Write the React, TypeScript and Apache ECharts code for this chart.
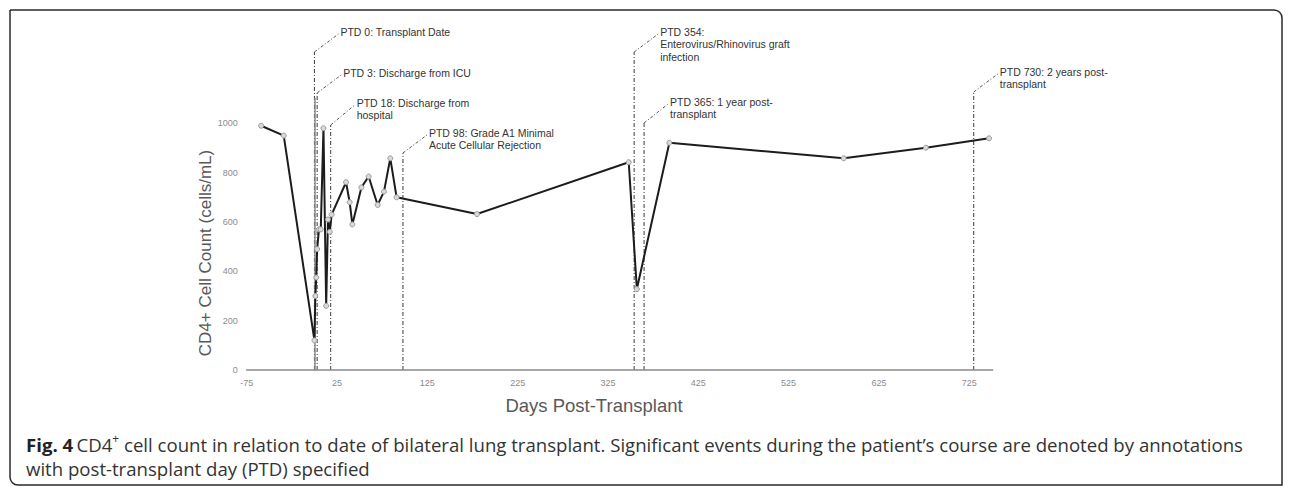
import React, { useEffect, useRef } from "react";
import * as echarts from "echarts";

// Data: CD4+ cell count vs. days post-transplant
const days = [-59, -34, 0, 1, 2, 3, 5, 7, 10, 13, 15, 17, 19, 35, 39, 42, 52, 60, 70, 77, 84, 91, 180, 348, 357, 393, 586, 677, 747];
const cd4 = [990, 950, 120, 300, 375, 490, 570, 570, 980, 260, 610, 560, 630, 761, 680, 590, 740, 784, 669, 723, 858, 700, 632, 842, 328, 921, 858, 901, 939];

const xTicks = [-75, 25, 125, 225, 325, 425, 525, 625, 725];
const yTicks = [0, 200, 400, 600, 800, 1000];

const eventDays = [0, 3, 18, 98, 354, 365, 730];
const eventLabels = [
  ["PTD 0: Transplant Date"],
  ["PTD 3: Discharge from ICU"],
  ["PTD 18: Discharge from", "hospital"],
  ["PTD 98: Grade A1 Minimal", "Acute Cellular Rejection"],
  ["PTD 354:", "Enterovirus/Rhinovirus graft", "infection"],
  ["PTD 365: 1 year post-", "transplant"],
  ["PTD 730: 2 years post-", "transplant"],
];

// Layout of annotation leaders (pixel positions)
const eventTopY = [52, 93, 125, 153, 52, 123, 92];
const eventTextY = [32, 73, 103, 133, 32, 102, 72];

const caption1 = "CD4";
const caption2 = " cell count in relation to date of bilateral lung transplant. Significant events during the patient\u2019s course are denoted by annotations";
const caption3 = "with post-transplant day (PTD) specified";

export default function App() {
  const ref = useRef<HTMLDivElement>(null);

  useEffect(() => {
    document.body.style.margin = "0";
    const chart = echarts.init(ref.current!, null, { renderer: "svg" });
    const axisFont = "Liberation Sans";
    chart.setOption({
      animation: false,
      backgroundColor: "#ffffff",
      grid: { left: 246.7, right: 297.3, top: 98.6, bottom: 117 },
      xAxis: {
        type: "value",
        min: -75,
        max: 751,
        axisLine: { show: true, onZero: false, lineStyle: { color: "#8a8a8a", width: 1.5 } },
        axisTick: { show: false },
        splitLine: { show: false },
        axisLabel: { customValues: xTicks, color: "#8c8c8c", fontSize: 9, margin: 8, fontFamily: axisFont, formatter: (v: number) => String(v) },
      },
      yAxis: {
        type: "value",
        min: 0,
        max: 1100,
        axisLine: { show: true, lineStyle: { color: "#8a8a8a", width: 1.5 } },
        axisTick: { show: false },
        splitLine: { show: false },
        axisLabel: { customValues: yTicks, color: "#8c8c8c", fontSize: 9, margin: 9, fontFamily: axisFont, formatter: (v: number) => String(v) },
      },
      series: [
        {
          type: "line",
          data: days.map((d, i) => [d, cd4[i]]),
          lineStyle: { color: "#1c1c1c", width: 2 },
          symbol: "circle",
          symbolSize: 5,
          itemStyle: { color: "#d9d9d9", borderColor: "#9a9a9a", borderWidth: 1 },
          clip: false,
        },
      ],
    });

    const y0 = chart.convertToPixel({ yAxisIndex: 0 }, 0) as number;
    const graphics: any[] = [
      {
        type: "rect",
        shape: { x: 10, y: 10, width: 1272, height: 475, r: [0, 8, 0, 8] },
        style: { fill: "none", stroke: "#2a2a2a", lineWidth: 1.5 },
      },
      {
        type: "text",
        x: 205,
        y: 253,
        rotation: Math.PI / 2,
        style: {
          text: "CD4+ Cell Count (cells/mL)",
          font: '17px "Liberation Sans"',
          fill: "#595959",
          align: "center",
          verticalAlign: "middle",
        },
      },
      {
        type: "text",
        x: 594,
        y: 405,
        style: {
          text: "Days Post-Transplant",
          font: '18.5px "Liberation Sans"',
          fill: "#595959",
          align: "center",
          verticalAlign: "middle",
        },
      },
      {
        type: "text",
        x: 26,
        y: 444,
        style: {
          text: "{b|Fig. 4} {n|" + caption1 + "}{s|+}{n|" + caption2 + "}",
          verticalAlign: "middle",
          rich: {
            b: { fontFamily: "Open Sans", fontSize: 18.6, fontWeight: "bold", fill: "#222", lineHeight: 24 },
            n: { fontFamily: "Open Sans", fontSize: 18.6, fill: "#333", lineHeight: 24 },
            s: { fontFamily: "Open Sans", fontSize: 12, fill: "#333", lineHeight: 13, verticalAlign: "top" },
          },
        },
      },
      {
        type: "text",
        x: 26,
        y: 468,
        style: {
          text: caption3,
          font: '18.6px "Open Sans"',
          fill: "#333",
          verticalAlign: "middle",
        },
      },
    ];

    eventDays.forEach((d, i) => {
      const x = chart.convertToPixel({ xAxisIndex: 0 }, d) as number;
      const top = eventTopY[i];
      const ty = eventTextY[i];
      graphics.push({
        type: "line",
        shape: { x1: x, y1: y0, x2: x, y2: top },
        style: { stroke: "#3a3a3a", lineWidth: 1, lineDash: [4, 2, 1, 2] },
      });
      graphics.push({
        type: "line",
        shape: { x1: x, y1: top, x2: x + 24, y2: ty + 2 },
        style: { stroke: "#555", lineWidth: 1, lineDash: [3, 2, 1, 2] },
      });
      graphics.push({
        type: "text",
        x: x + 26,
        y: ty - 6.5,
        style: {
          text: eventLabels[i].join("\n"),
          font: '10.5px "Liberation Sans"',
          fill: "#333",
          lineHeight: 12.5,
          verticalAlign: "top",
        },
      });
    });

    chart.setOption({ graphic: graphics });

    return () => chart.dispose();
  }, []);

  return <div ref={ref} style={{ width: 1290, height: 487 }} />;
}
